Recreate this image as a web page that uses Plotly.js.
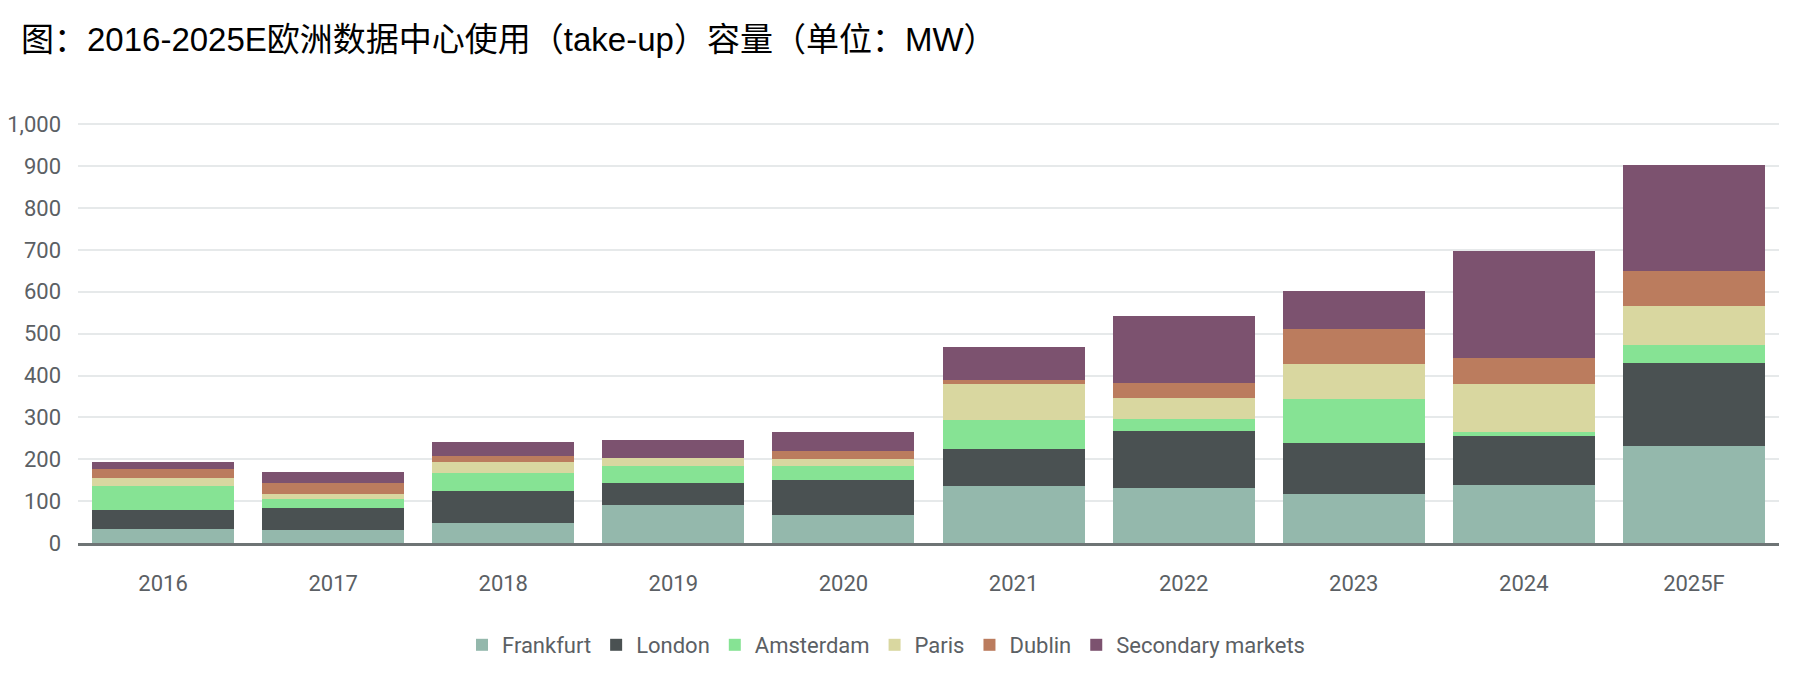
<!DOCTYPE html>
<html>
<head>
<meta charset="utf-8">
<script src="https://cdn.plot.ly/plotly-3.0.1.min.js"></script>
<style>
  html, body { margin: 0; padding: 0; background: #ffffff; }
  #chart { width: 1808px; height: 680px; }
</style>
</head>
<body>
<div id="chart"></div>
<script>
const years = ["2016", "2017", "2018", "2019", "2020", "2021", "2022", "2023", "2024", "2025F"];
const frankfurt = [33, 30, 48, 91, 68, 136, 131, 117, 139, 231];
const london = [47, 54, 76, 52, 82, 89, 137, 123, 116, 199];
const amsterdam = [57, 21, 43, 40, 34, 68, 29, 104, 10, 43];
const paris = [18, 13, 26, 19, 17, 86, 50, 84, 114, 92];
const dublin = [22, 25, 14, 2, 18, 10, 35, 83, 64, 85];
const secondary = [16, 26, 34, 43, 46, 80, 161, 91, 255, 253];
const yTicks = [0, 100, 200, 300, 400, 500, 600, 700, 800, 900, 1000];

const seriesNames = ["Frankfurt", "London", "Amsterdam", "Paris", "Dublin", "Secondary markets"];
const seriesData = [frankfurt, london, amsterdam, paris, dublin, secondary];
const seriesColors = ["#94b8ac", "#4a5152", "#86e394", "#d9d7a0", "#bb7c5e", "#7c526f"];

const narrow = "Roboto, sans-serif";
const grey = "#5b6064";

const traces = seriesNames.map((name, i) => ({
  type: "bar",
  name: name,
  x: years,
  y: seriesData[i],
  marker: { color: seriesColors[i], line: { width: 0 } },
  hoverinfo: "x+y+name"
}));

const layout = {
  width: 1808,
  height: 680,
  barmode: "stack",
  bargap: 0.165,
  paper_bgcolor: "#ffffff",
  plot_bgcolor: "#ffffff",
  margin: { l: 78, r: 29, t: 123, b: 137 },
  title: {
    text: "图：2016-2025E欧洲数据中心使用（take-up）容量（单位：MW）",
    font: { family: "Liberation Sans, Noto Sans CJK SC, sans-serif", size: 33, color: "#000000" },
    xref: "container", yref: "container",
    x: 21 / 1808, xanchor: "left",
    y: 1 - 39 / 680, yanchor: "middle"
  },
  xaxis: {
    type: "category",
    tickfont: { family: narrow, size: 22, color: grey },
    showline: true, linecolor: "#6e7475", linewidth: 2.5,
    ticks: "", showgrid: false,
    ticklabelstandoff: 19
  },
  yaxis: {
    range: [0, 1003],
    tickvals: yTicks,
    ticktext: yTicks.map(v => v.toLocaleString("en-US")),
    tickfont: { family: narrow, size: 22, color: grey },
    showgrid: true, gridcolor: "#e6e9ea", gridwidth: 2,
    zeroline: false, showline: false, ticks: "",
    ticklabelstandoff: 16
  },
  legend: {
    orientation: "h",
    xref: "container", yref: "container",
    x: 462 / 1808, xanchor: "left",
    y: 1 - 645 / 680, yanchor: "middle",
    font: { family: narrow, size: 22, color: grey },
    itemgap: 48,
    traceorder: "normal",
    itemwidth: 30
  },
  showlegend: true
};

Plotly.newPlot("chart", traces, layout, { displayModeBar: false, staticPlot: true });
</script>
</body>
</html>
